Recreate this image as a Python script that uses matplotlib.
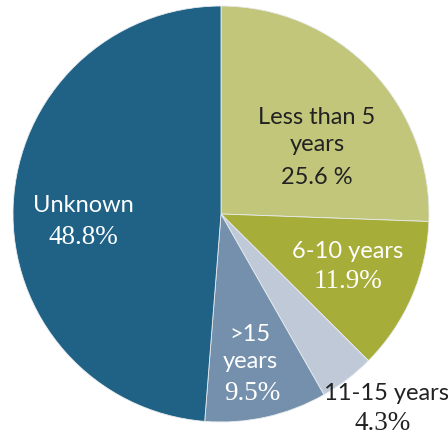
import matplotlib
matplotlib.use('Agg')
import matplotlib.pyplot as plt

# Share of respondents by years of experience
labels = ['Less than 5\nyears', '6-10 years', '11-15 years', '>15\nyears', 'Unknown']
shares = [25.6, 11.9, 4.3, 9.5, 48.8]
pct_text = ['25.6 %', '11.9%', '4.3%', '9.5%', '48.8%']

colors = ['#c2c67b', '#a6ad38', '#c0c9d8', '#7490ad', '#1f6286']
label_colors = ['#222222', 'white', '#222222', 'white', 'white']
pct_serif = [False, True, True, True, True]

# label anchor (x, y) in pixels from top-left, for name and value lines
name_pos = [(317, 131), (348, 251), (387, 394), (250, 348), (83, 205)]
pct_pos = [(317, 178), (348, 281), (383, 424), (252, 393), (83, 237)]

W, H = 448, 437
fig = plt.figure(figsize=(W / 100, H / 100), dpi=100)
ax = fig.add_axes([0, 0, 1, 1])

ax.pie(shares, colors=colors, startangle=90, counterclock=False,
       center=(221, H - 214), radius=208, frame=True,
       wedgeprops=dict(edgecolor='#e8ecef', linewidth=0.6))
ax.set_xlim(0, W)
ax.set_ylim(0, H)
ax.set_aspect('equal')
ax.axis('off')

sans = ['Lato', 'DejaVu Sans']
serif = ['Liberation Serif', 'DejaVu Serif']
for i, lab in enumerate(labels):
    x, y = name_pos[i]
    ax.text(x, H - y, lab, ha='center', va='center', color=label_colors[i],
            fontsize=17, family=sans, linespacing=1.3)
    x, y = pct_pos[i]
    ax.text(x, H - y, pct_text[i], ha='center', va='center', color=label_colors[i],
            fontsize=19.5 if pct_serif[i] else 17,
            family=serif if pct_serif[i] else sans)

fig.savefig('out.png', dpi=100)
